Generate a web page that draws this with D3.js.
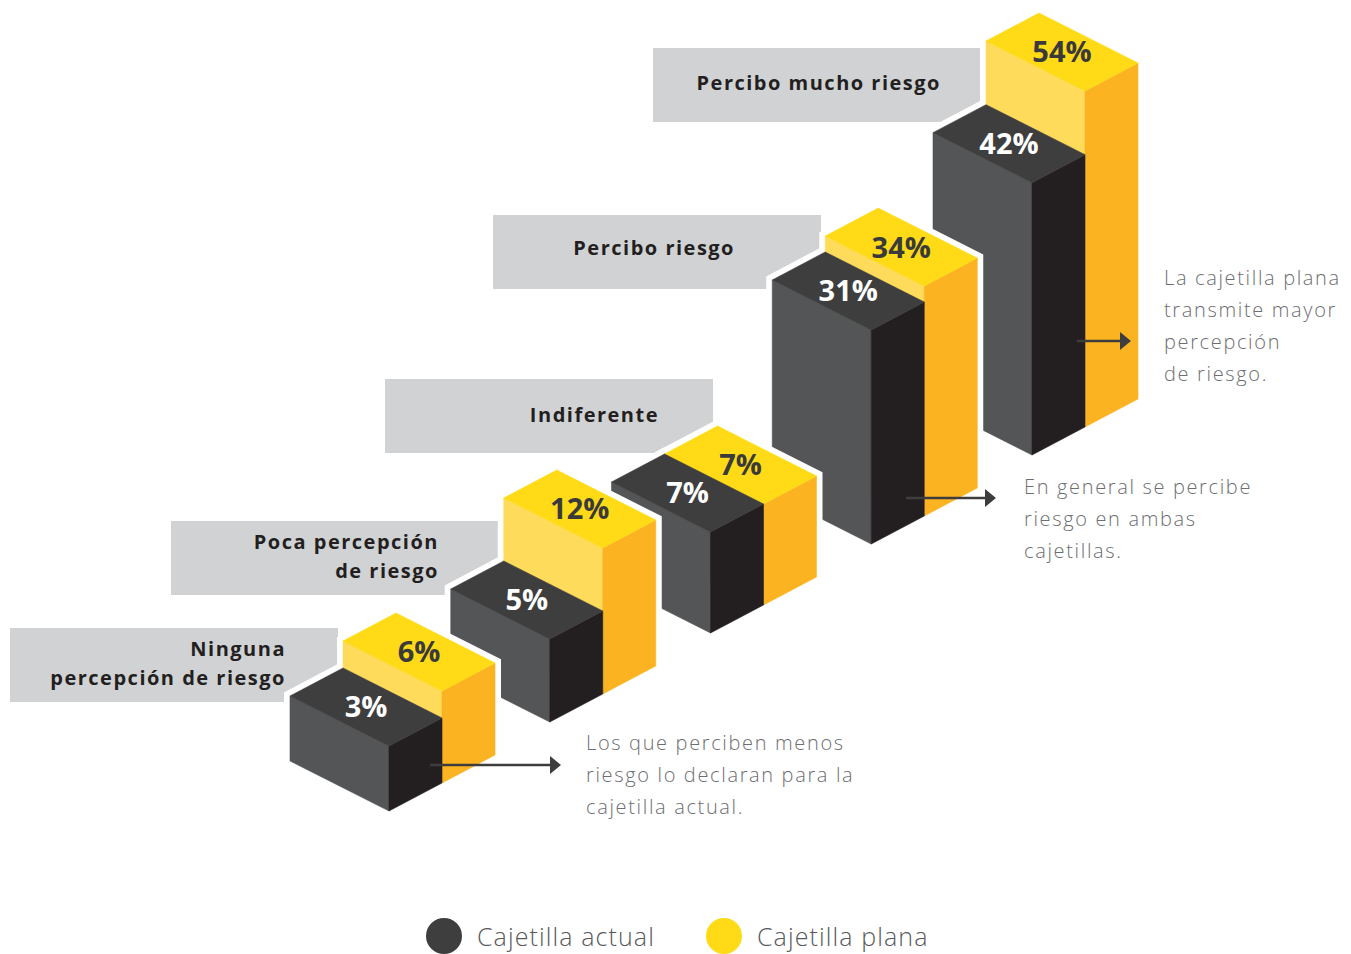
<!DOCTYPE html>
<html>
<head>
<meta charset="utf-8">
<script src="https://cdn.jsdelivr.net/npm/d3@7"></script>
<style>
  html, body { margin: 0; padding: 0; background: #ffffff; }
  svg { display: block; }
</style>
</head>
<body>
<div id="chart"></div>
<script>
// data
const categories = ["Ninguna percepción de riesgo", "Poca percepción de riesgo", "Indiferente", "Percibo riesgo", "Percibo mucho riesgo"];
const categoryLines = [["Ninguna", "percepción de riesgo"], ["Poca percepción", "de riesgo"], ["Indiferente"], ["Percibo riesgo"], ["Percibo mucho riesgo"]];
const series = ["Cajetilla actual", "Cajetilla plana"];
const actual = [3, 5, 7, 31, 42];
const plana = [6, 12, 7, 34, 54];
const notes = [
    ["Los que perciben menos", "riesgo lo declaran para la", "cajetilla actual."],
    ["En general se percibe", "riesgo en ambas", "cajetillas."],
    ["La cajetilla plana", "transmite mayor", "percepción", "de riesgo."]
];

const width = 1351;
const height = 954;

const colors = {
    actual: { top: "#3e3e3f", left: "#545557", right: "#231f20", text: "#ffffff" },
    plana: { top: "#fedb16", left: "#ffdb5c", right: "#fbb322", text: "#3a3a3a" }
};
const bandColor = "#d1d2d4";
const noteColor = "#6d6e71";

// isometric vectors: W goes from left corner to front corner, D from front corner to right corner
const W = { x: 99, y: 50 };
const D = { x: 53, y: -28 };

// ground position of each pair (front-bottom corner of the dark box)
const xPos = d3.scaleLinear().domain([0, categories.length - 1]).range([389, 1032]);
const yPos = d3.scaleLinear().domain([0, categories.length - 1]).range([811, 455]);
// box heights, not to scale in the original infographic
const h = d3.scaleLinear().domain([0, 12, 31, 54]).range([38, 146, 214, 336]);

// label bands
const bandW = 328, bandH = 74;
const bandLayout = [
    { right: 338, top: 628, textRight: 286, base: [28, 57] },
    { right: 499, top: 521, textRight: 439, base: [28, 57] },
    { right: 713, top: 379, textRight: 659, base: [43] },
    { right: 821, top: 215, textRight: 735, base: [40] },
    { right: 981, top: 48, textRight: 941, base: [42] }
];

const svg = d3.select("#chart").append("svg")
    .attr("width", width)
    .attr("height", height);

const bands = svg.append("g").selectAll("g")
    .data(categoryLines)
    .join("g");

bands.append("rect")
    .attr("x", (d, i) => bandLayout[i].right - bandW)
    .attr("y", (d, i) => bandLayout[i].top)
    .attr("width", bandW)
    .attr("height", bandH)
    .attr("fill", bandColor);

bands.each(function (lines, i) {
    const b = bandLayout[i];
    d3.select(this).selectAll("text")
        .data(lines)
        .join("text")
        .attr("x", b.textRight)
        .attr("y", (d, j) => b.top + b.base[j])
        .attr("text-anchor", "end")
        .attr("font-family", "'Open Sans', 'Noto Sans', sans-serif")
        .attr("font-weight", 700)
        .attr("font-size", 20)
        .attr("letter-spacing", 1.5)
        .attr("fill", "#231f20")
        .text(d => d);
});

function boxPoints(fx, fy, hh) {
    const F = [fx, fy];
    const FT = [fx, fy - hh];
    const LT = [fx - W.x, fy - hh - W.y];
    const RT = [fx + D.x, fy - hh + D.y];
    const BT = [LT[0] + D.x, LT[1] + D.y];
    const LB = [fx - W.x, fy - W.y];
    const RB = [fx + D.x, fy + D.y];
    return {
        top: [LT, BT, RT, FT],
        left: [LT, FT, F, LB],
        right: [FT, RT, RB, F],
        outline: [LT, BT, RT, RB, F, LB],
        center: [(LT[0] + RT[0]) / 2, (LT[1] + RT[1]) / 2]
    };
}

const poly = pts => "M" + pts.map(p => p.join(",")).join("L") + "Z";

const pairs = categories.map((c, i) => {
    const fx = xPos(i), fy = yPos(i);
    return {
        i,
        boxes: [
            { key: "plana", value: plana[i], geo: boxPoints(fx + D.x, fy + D.y, h(plana[i])) },
            { key: "actual", value: actual[i], geo: boxPoints(fx, fy, h(actual[i])) }
        ]
    };
}).reverse();

const pairG = svg.append("g").selectAll("g")
    .data(pairs)
    .join("g");

pairG.each(function (p) {
    const g = d3.select(this);
    // white halo round the pair
    g.selectAll("path.halo")
        .data(p.boxes)
        .join("path")
        .attr("class", "halo")
        .attr("d", d => poly(d.geo.outline))
        .attr("fill", "#ffffff")
        .attr("stroke", "#ffffff")
        .attr("stroke-width", 12)
        .attr("stroke-linejoin", "miter");

    p.boxes.forEach(b => {
        const c = colors[b.key];
        ["left", "right", "top"].forEach(face => {
            g.append("path")
                .attr("d", poly(b.geo[face]))
                .attr("fill", c[face])
                .attr("stroke", c[face])
                .attr("stroke-width", 0.6);
        });
        g.append("text")
            .attr("x", b.geo.center[0])
            .attr("y", b.geo.center[1])
            .attr("dy", "0.36em")
            .attr("text-anchor", "middle")
            .attr("font-family", "'Open Sans', 'Noto Sans', sans-serif")
            .attr("font-weight", 700)
            .attr("font-size", 29)
            .attr("fill", c.text)
            .text(b.value + "%");
    });
});

// annotations with arrows
const noteLayout = [
    { x1: 430, x2: 561, y: 765, tx: 586, ty: 750 },
    { x1: 906, x2: 996, y: 498, tx: 1024, ty: 494 },
    { x1: 1077, x2: 1131, y: 341, tx: 1164, ty: 285 }
];

const noteG = svg.append("g").selectAll("g")
    .data(notes)
    .join("g");

noteG.each(function (lines, i) {
    const n = noteLayout[i];
    const g = d3.select(this);
    g.append("line")
        .attr("x1", n.x1)
        .attr("x2", n.x2 - 8)
        .attr("y1", n.y)
        .attr("y2", n.y)
        .attr("stroke", "#3d3d3d")
        .attr("stroke-width", 2.5);
    g.append("path")
        .attr("d", `M${n.x2},${n.y}L${n.x2 - 11},${n.y - 9}L${n.x2 - 11},${n.y + 9}Z`)
        .attr("fill", "#3d3d3d");
    g.selectAll("text")
        .data(lines)
        .join("text")
        .attr("x", n.tx)
        .attr("y", (d, j) => n.ty + j * 32)
        .attr("font-family", "'Open Sans', 'Noto Sans', sans-serif")
        .attr("font-weight", 300)
        .attr("font-size", 20)
        .attr("letter-spacing", 1.65)
        .attr("fill", noteColor)
        .text(d => d);
});

// legend
const legendX = d3.scalePoint().domain(series).range([444, 724]);
const legend = svg.append("g").selectAll("g")
    .data(series)
    .join("g")
    .attr("transform", d => `translate(${legendX(d)},936)`);

legend.append("circle")
    .attr("r", 18)
    .attr("fill", (d, i) => i === 0 ? colors.actual.top : colors.plana.top);

legend.append("text")
    .attr("x", 33)
    .attr("y", 10)
    .attr("font-family", "'Open Sans', 'Noto Sans', sans-serif")
    .attr("font-weight", 300)
    .attr("font-size", 25)
    .attr("letter-spacing", 1.1)
    .attr("fill", "#58595b")
    .text(d => d);
</script>
</body>
</html>
